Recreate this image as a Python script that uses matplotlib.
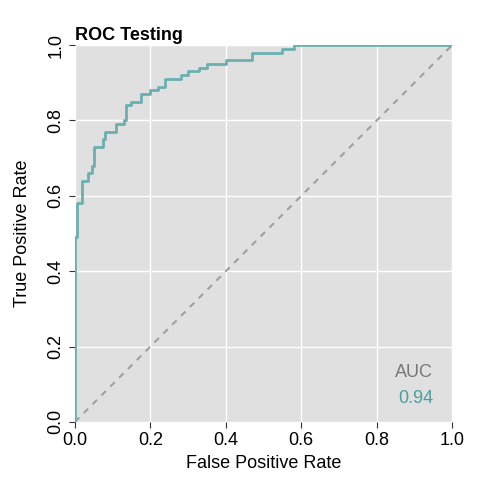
import matplotlib
matplotlib.use("Agg")
import matplotlib.pyplot as plt

plt.rcParams['font.family'] = ['Liberation Sans', 'DejaVu Sans']

fpr = [0, 0, 0.005, 0.005, 0.02, 0.02, 0.035, 0.035, 0.045, 0.05, 0.07, 0.075, 0.08, 0.1,
       0.11, 0.13, 0.135, 0.15, 0.17, 0.175, 0.2, 0.22, 0.24, 0.28, 0.3, 0.33, 0.35, 0.39,
       0.4, 0.45, 0.47, 0.5, 0.55, 0.58, 1.0]
tpr = [0, 0.49, 0.49, 0.58, 0.58, 0.64, 0.64, 0.66, 0.68, 0.73, 0.73, 0.75, 0.77, 0.77,
       0.79, 0.80, 0.84, 0.85, 0.85, 0.87, 0.88, 0.89, 0.91, 0.92, 0.93, 0.94, 0.95, 0.95,
       0.96, 0.96, 0.98, 0.98, 0.99, 1.0, 1.0]
auc = 0.94
ticks = [0, 0.2, 0.4, 0.6, 0.8, 1.0]

fig = plt.figure(figsize=(4.8, 4.8), dpi=100)
ax = fig.add_axes([0.156, 0.121, 0.786, 0.785])
ax.set_facecolor('#E0E0E0')
for s in ax.spines.values():
    s.set_visible(False)
ax.grid(color='white', linewidth=1)
ax.set_axisbelow(True)

ax.plot([0, 1], [0, 1], color='#A0A0A0', linestyle=(0, (3, 3)), linewidth=1.5)
ax.plot(fpr, tpr, color='#6BB0B0', linewidth=2, drawstyle='steps-post')

ax.set_xlim(0, 1)
ax.set_ylim(0, 1)
ax.set_xticks(ticks)
ax.set_yticks(ticks)
ax.set_xticklabels([f"{t:.1f}" for t in ticks], fontsize=13)
ax.set_yticklabels([f"{t:.1f}" for t in ticks], fontsize=13, rotation=90, va='center')
ax.tick_params(length=4, color='#333333')
ax.set_xlabel("False Positive Rate", fontsize=13)
ax.set_ylabel("True Positive Rate", fontsize=13, labelpad=12)
ax.set_title("ROC Testing", loc='left', fontsize=13, fontweight='bold', pad=4)

ax.text(0.95, 0.12, "AUC", ha='right', fontsize=13, color='#777777', transform=ax.transAxes)
ax.text(0.95, 0.05, f"{auc:.2f}", ha='right', fontsize=13, color='#4A9E9E', transform=ax.transAxes)

fig.savefig("out.png", dpi=100)
